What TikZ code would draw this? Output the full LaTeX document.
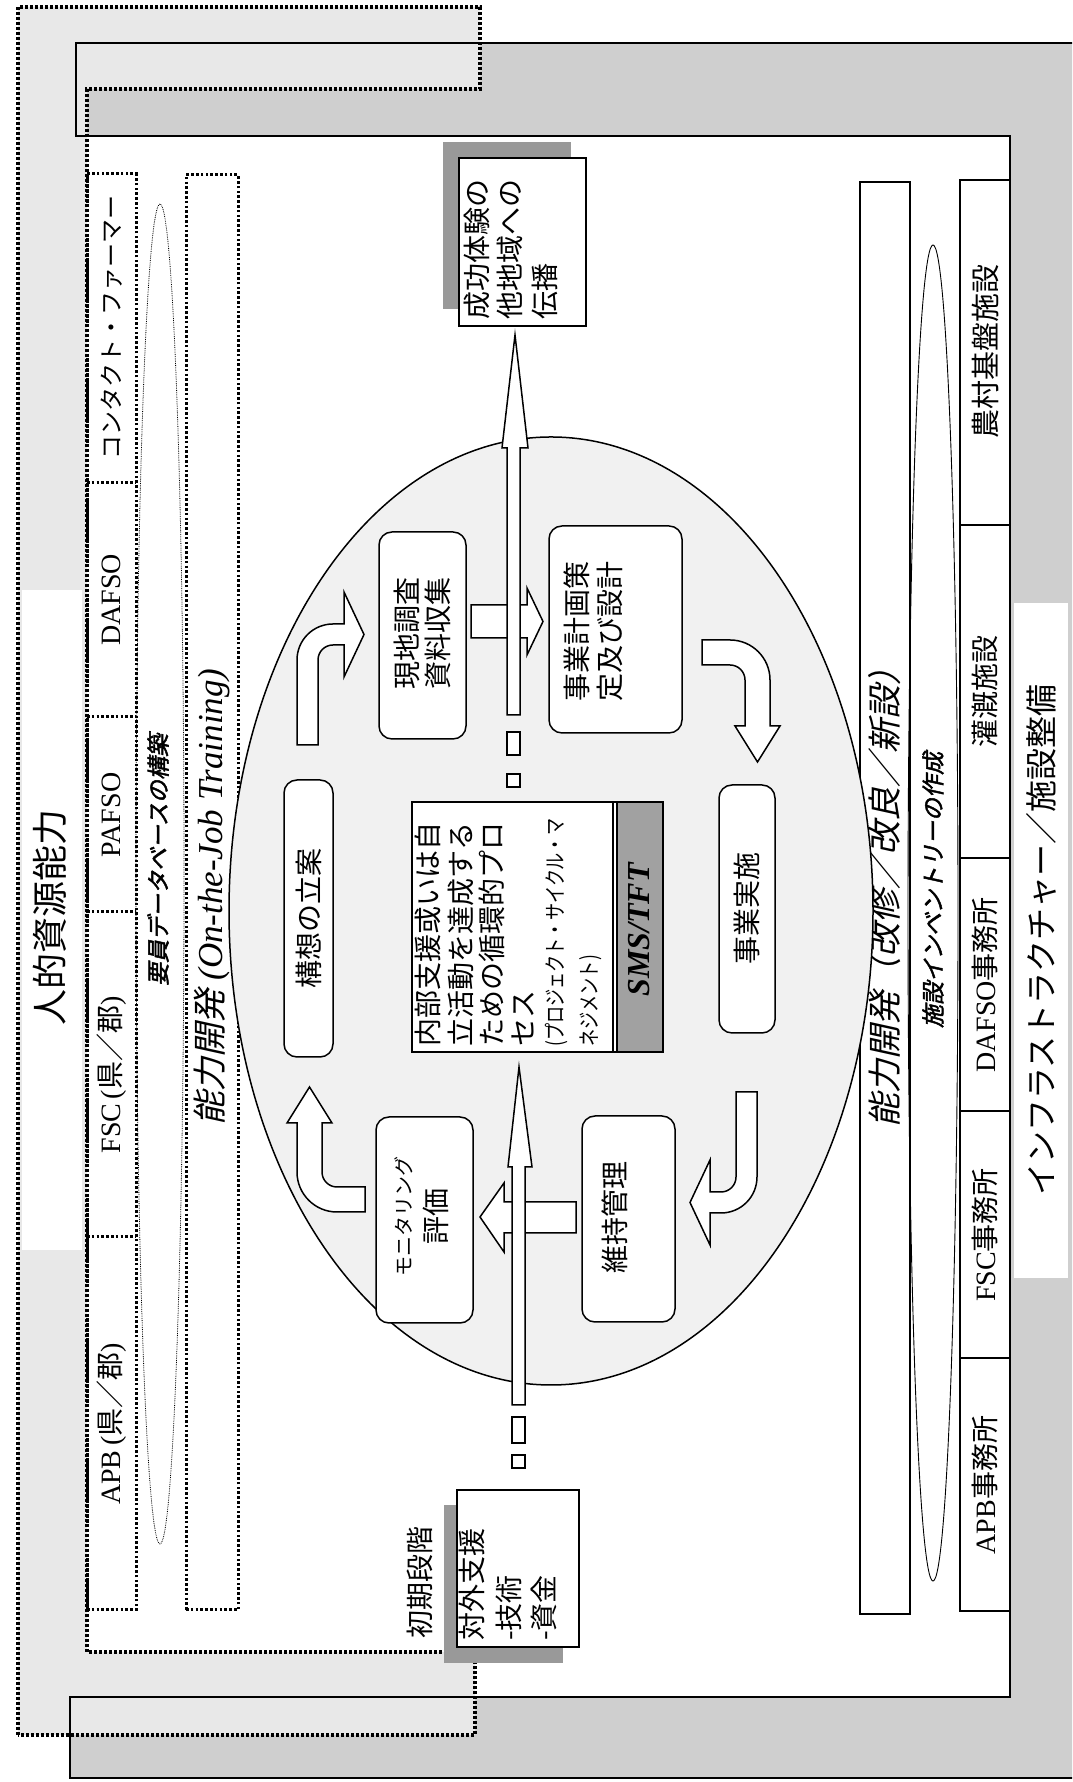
\documentclass[tikz,border=0pt]{standalone}
\usepackage{fontspec}
\setmainfont{Liberation Serif}
\newfontfamily\jp{Noto Sans CJK JP}
\newfontfamily\jpn[FakeStretch=0.78]{Noto Sans CJK JP}
\newfontfamily\jpi[FakeSlant=0.22]{Noto Sans CJK JP}
\newfontfamily\jpbi[FakeSlant=0.22,FakeBold=2]{Noto Sans CJK JP}
\newcommand{\fsz}[2]{\fontsize{#1}{#2}\selectfont}
\definecolor{bandA}{gray}{0.91}
\definecolor{bandB}{gray}{0.81}
\definecolor{ellc}{gray}{0.945}
\definecolor{shadc}{gray}{0.60}
\definecolor{barc}{gray}{0.63}
\tikzset{
 dotfr/.style={line width=3.2pt, dash pattern=on 2.8pt off 2.2pt},
 dotbx/.style={line width=3pt, dash pattern=on 2.6pt off 2.2pt},
 solfr/.style={line width=2.2pt},
 solbx/.style={line width=1.6pt},
 cyc/.style={draw, line width=1.5pt, fill=white, rounded corners=13pt, inner sep=0pt},
 pbox/.style={draw, line width=1.5pt, fill=white},
 blk/.style={draw, line width=1.5pt, fill=white, line join=miter},
 lbl/.style={inner sep=0pt, font=\jp\fsz{28}{32}, align=center},
 lftl/.style={inner sep=0pt, anchor=west, font=\jp\fsz{28}{32}},
}
\newcommand{\bentarr}[9]{%
 \draw[blk, shift={(#1,#2)}, rotate=#3] (0,0) -- (#4,0)
   arc[start angle=90, end angle=0, radius=#5pt]
   -- ({#4+#5},{-#6}) -- ({#4+#5+#8},{-#6}) -- ({#4+#5-#7/2},{-#6-#9})
   -- ({#4+#5-#7-#8},{-#6}) -- ({#4+#5-#7},{-#6}) -- ({#4+#5-#7},{-#5})
   arc[start angle=0, end angle=90, radius={(#5-#7)*1pt}] -- (0,{-#7}) -- cycle;}
\begin{document}
\begin{tikzpicture}[x=1pt,y=1pt]
\useasboundingbox (0,0) rectangle (1072,1782);
\fill[white] (0,0) rectangle (1072,1782);
\begin{scope}
\clip (0,0) rectangle (1072,1782);
\begin{scope}[rotate=90, transform shape]
% ---- band fills
\fill[bandB] (4,-70) -- (85,-70) -- (85,-1010) -- (1646,-1010) -- (1646,-76) -- (1739,-76) -- (1739,-1100) -- (4,-1100) -- cycle;
\fill[bandA] (47,-18) -- (1775,-18) -- (1775,-480) -- (1693,-480) -- (1693,-87) -- (130,-87) -- (130,-475) -- (47,-475) -- cycle;
% ---- white labels in the bands
\node[fill=white, minimum width=660pt, minimum height=60pt, inner sep=0pt] (hrbg) at (862,-52) {};
\node[inner sep=0pt, font=\jp\fsz{36}{40}] (hr) at (864,-50) {人的資源能力};
\node[fill=white, minimum width=675pt, minimum height=54pt, inner sep=0pt] (infbg) at (841,-1041) {};
\node[inner sep=0pt, font=\jp\fsz{32}{36}] (inf) at (842,-1041) {インフラストラクチャー／施設整備};
% ---- frame lines
\draw[solfr] (4,-1100) -- (4,-70) -- (85,-70) -- (85,-1010) -- (1646,-1010) -- (1646,-76) -- (1739,-76) -- (1739,-1100);
\draw[dotfr] (47,-18) -- (1775,-18) -- (1775,-480) -- (1693,-480) -- (1693,-87) -- (130,-87) -- (130,-475) -- (47,-475) -- cycle;
% ---- human resources row
\draw[dotbx] (172,-87) rectangle (1608,-136);
\foreach \s in {545,870,1065,1299} \draw[dotbx] (\s,-87) -- (\s,-136);
\node[inner sep=0pt, font=\fsz{28}{30}] (apb) at (358,-111.5) {APB\,({\jp 県／郡})};
\node[inner sep=0pt, font=\fsz{28}{30}] (fsc) at (707,-111.5) {FSC\,({\jp 県／郡})};
\node[inner sep=0pt, font=\fsz{28}{30}] (pafso) at (967,-111.5) {PAFSO};
\node[inner sep=0pt, font=\fsz{28}{30}] (dafso) at (1182,-111.5) {DAFSO};
\node[inner sep=0pt, font=\jp\fsz{24}{28}] (cf) at (1454,-111.5) {コンタクト・ファーマー};
\draw[densely dotted, line width=0.8pt] (908,-160) ellipse [x radius=670pt, y radius=24pt];
\node[fill=white, inner sep=2pt, font=\jpbi\fsz{23}{26}] (db) at (922,-158) {要員データベースの構築};
\draw[dotbx] (172,-186) rectangle (1607,-238);
\node[inner sep=0pt] (ojt) at (885,-212) {{\jpi\fsz{34}{38}能力開発}{\itshape\fsz{35}{38} (On-the-Job Training)}};
% ---- facility side
\draw[solbx] (168,-860) rectangle (1600,-910);
\node[inner sep=0pt, font=\jpi\fsz{34}{36}] (cap) at (892,-885) {能力開発（改修／改良／新設）};
\draw[line width=0.9pt] (869,-933) ellipse [x radius=668pt, y radius=25pt];
\node[fill=white, inner sep=2pt, font=\jpbi\fsz{23}{26}] (inv) at (892,-933) {施設インベントリーの作成};
\draw[solbx] (171,-960) rectangle (1602,-1010);
\foreach \s in {424,671,924,1257} \draw[solbx] (\s,-960) -- (\s,-1010);
\node[inner sep=0pt, font=\fsz{28}{30}] (apbo) at (297,-985) {APB{\jp 事務所}};
\node[inner sep=0pt, font=\fsz{28}{30}] (fsco) at (547,-985) {FSC{\jp 事務所}};
\node[inner sep=0pt, font=\fsz{28}{30}] (dafo) at (797,-985) {DAFSO{\jp 事務所}};
\node[inner sep=0pt, font=\jp\fsz{28}{30}] (kan) at (1090,-985) {灌漑施設};
\node[inner sep=0pt, font=\jp\fsz{29}{30}] (noson) at (1430,-985) {農村基盤施設};
% ---- cycle ellipse
\filldraw[fill=ellc, line width=1.5pt] (871,-551) ellipse [x radius=474pt, y radius=322pt];
% ---- block arrows
\draw[blk] (1144,-471) -- (1144,-527) -- (1127,-527) -- (1160.5,-543) -- (1194,-527) -- (1177,-527) -- (1177,-471) -- cycle;
\draw[blk] (549,-576) -- (549,-504) -- (530,-504) -- (565,-480) -- (599,-504) -- (580,-504) -- (580,-576) -- cycle;
% ---- bent arrows
\bentarr{1037}{-297}{0}{85}{36}{47}{21}{32}{20}
\bentarr{690}{-757}{180}{85}{36}{47}{21}{32}{20}
\bentarr{570}{-365}{90}{28}{40}{89}{25}{10}{36}
\bentarr{1142}{-702}{-90}{28}{40}{86}{25}{10}{36}
% ---- cycle boxes
\node[cyc, minimum width=277pt, minimum height=49pt] (koso) at (863.5,-308.5) {};
\node[lbl] (kosot) at (863.5,-309) {構想の立案};
\node[cyc, minimum width=207pt, minimum height=87pt] (genchi) at (1146.5,-422.5) {};
\node[lbl, font=\jp\fsz{28}{31}] (genchit) at (1148.5,-422.5) {現地調査\\資料収集};
\node[cyc, minimum width=207pt, minimum height=133pt] (keikaku) at (1152.5,-615.5) {};
\node[lbl, font=\jp\fsz{28}{33}] (keikakut) at (1150,-593.5) {事業計画策\\定及び設計};
\node[cyc, minimum width=248pt, minimum height=56pt] (jisshi) at (873,-747) {};
\node[lbl] (jisshit) at (873,-747) {事業実施};
\node[cyc, minimum width=206pt, minimum height=93pt] (iji) at (563,-628.5) {};
\node[lbl] (ijit) at (564,-615) {維持管理};
\node[cyc, minimum width=206pt, minimum height=97pt] (moni) at (562,-424.5) {};
\node[lbl, font=\jp\fsz{20}{35}] (monit) at (565,-422) {モニタリング\\{\fsz{28}{30}評価}};
% ---- SMS box
\draw[pbox] (730,-412) rectangle (980,-663);
\fill[barc] (730,-617) rectangle (980,-663);
\draw[line width=1.2pt] (730,-613) -- (980,-613);
\draw[line width=1.2pt] (730,-617) -- (980,-617);
\draw[line width=1.5pt] (730,-412) rectangle (980,-663);
\node[lftl] (s1) at (735,-428) {内部支援或いは自};
\node[lftl] (s2) at (735,-461) {立活動を達成する};
\node[lftl] (s3) at (735,-492) {ための循環的プロ};
\node[lftl] (s4) at (735,-523) {セス};
\node[lftl, font=\jpn\fsz{22}{25}] (s5) at (735,-557) {(プロジェクト・サイクル・マ};
\node[lftl, font=\jpn\fsz{22}{25}] (s6) at (735,-591) {ネジメント)};
\node[inner sep=0pt, font=\bfseries\itshape\fsz{32}{34}] (sms) at (852,-639) {SMS/TFT};
% ---- flow arrows
\draw[blk] (377,-512) -- (615,-512) -- (615,-508) -- (715,-519) -- (615,-532) -- (615,-525) -- (377,-525) -- cycle;
\draw[blk] (339,-512) rectangle (365,-525);
\draw[blk] (314,-512) rectangle (327,-525);
\draw[blk] (1067,-507) -- (1334,-507) -- (1334,-502) -- (1447,-515) -- (1334,-528) -- (1334,-520) -- (1067,-520) -- cycle;
\draw[blk] (1027,-507) rectangle (1050,-520);
\draw[blk] (995,-507) rectangle (1008,-520);
% ---- initial stage box
\fill[shadc] (119,-444) rectangle (277,-563);
\draw[pbox] (135,-457) rectangle (292,-579);
\node[lftl] (shoki) at (143,-420) {初期段階};
\node[lftl] (i1) at (141,-472) {対外支援};
\node[lftl] (i2) at (141,-509) {-技術};
\node[lftl] (i3) at (141,-544) {-資金};
% ---- success box
\fill[shadc] (1473,-443) rectangle (1640,-571);
\draw[pbox] (1456,-459) rectangle (1624,-586);
\node[lftl] (k1) at (1462,-477) {成功体験の};
\node[lftl] (k2) at (1462,-510) {他地域への};
\node[lftl] (k3) at (1462,-545) {伝播};
\end{scope}
\end{scope}
\end{tikzpicture}
\end{document}
